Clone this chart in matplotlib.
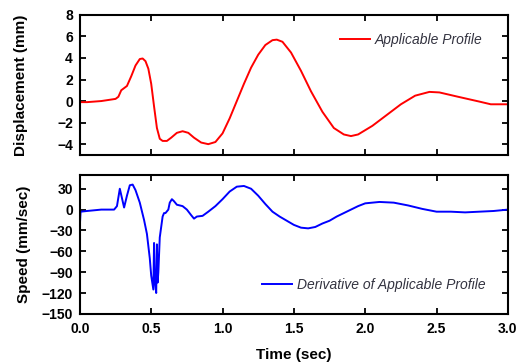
import matplotlib
matplotlib.use('Agg')
import matplotlib.pyplot as plt

plt.rcParams['font.family'] = ['Liberation Sans', 'DejaVu Sans']

# displacement profile (sec, mm)
disp_t = [0.00, 0.05, 0.10, 0.15, 0.20, 0.25, 0.27, 0.29, 0.31, 0.33, 0.36, 0.39,
          0.42, 0.44, 0.46, 0.48, 0.50, 0.52, 0.54, 0.56, 0.58, 0.61, 0.64, 0.68,
          0.72, 0.76, 0.80, 0.85, 0.90, 0.95, 1.00, 1.05, 1.10, 1.15, 1.20, 1.25,
          1.30, 1.35, 1.38, 1.42, 1.48, 1.55, 1.62, 1.70, 1.78, 1.85, 1.90, 1.95,
          2.05, 2.15, 2.25, 2.35, 2.45, 2.52, 2.65, 2.80, 2.88, 3.00]
disp_mm = [-0.1, -0.1, -0.05, 0.0, 0.1, 0.2, 0.4, 1.0, 1.2, 1.4, 2.3, 3.3,
           3.9, 3.95, 3.7, 3.0, 1.6, -0.5, -2.5, -3.5, -3.7, -3.7, -3.4, -2.95,
           -2.8, -2.95, -3.4, -3.85, -4.0, -3.8, -3.0, -1.6, 0.0, 1.6, 3.1, 4.3,
           5.2, 5.65, 5.7, 5.5, 4.5, 2.8, 0.9, -1.0, -2.5, -3.1, -3.25, -3.1,
           -2.3, -1.3, -0.3, 0.5, 0.85, 0.8, 0.4, -0.05, -0.3, -0.3]

# speed (sec, mm/sec)
spd_t = [0.000, 0.005, 0.05, 0.10, 0.15, 0.20, 0.24, 0.26, 0.28, 0.30, 0.31, 0.33,
         0.35, 0.37, 0.39, 0.42, 0.45, 0.47, 0.49, 0.50, 0.515, 0.52, 0.525, 0.535,
         0.54, 0.545, 0.55, 0.56, 0.58, 0.59, 0.60, 0.62, 0.63, 0.645, 0.66, 0.68,
         0.72, 0.75, 0.78, 0.80, 0.82, 0.86, 0.90, 0.95, 1.00, 1.05, 1.10, 1.15,
         1.20, 1.25, 1.30, 1.35, 1.40, 1.45, 1.50, 1.55, 1.60, 1.65, 1.70, 1.75,
         1.80, 1.90, 1.95, 2.00, 2.10, 2.20, 2.30, 2.40, 2.50, 2.60, 2.70, 2.80,
         2.90, 3.00]
spd_v = [-22, -3, -2, -1, 0, 0, 0, 5, 30, 12, 3, 20,
         35, 36, 28, 10, -15, -35, -70, -95, -115, -48, -100, -120,
         -50, -105, -90, -40, -10, -5, -5, 0, 10, 15, 12, 7,
         5, 0, -8, -13, -10, -9, -3, 5, 15, 26, 33, 34,
         30, 20, 8, -3, -10, -16, -22, -26, -27, -25, -20, -16,
         -10, 0, 5, 9, 11, 10, 6, 1, -3, -3, -4, -3,
         -2, 0]

xticks = [0, 0.5, 1.0, 1.5, 2.0, 2.5, 3.0]
xlabels = ['0.0', '0.5', '1.0', '1.5', '2.0', '2.5', '3.0']

fig = plt.figure(figsize=(5.22, 3.62), dpi=100)
ax1 = fig.add_axes([0.153, 0.572, 0.820, 0.387])
ax2 = fig.add_axes([0.153, 0.133, 0.820, 0.384])

ax1.plot(disp_t, disp_mm, color='#ff0000', lw=1.4, label='Applicable Profile')
ax2.plot(spd_t, spd_v, color='#0000ff', lw=1.4, label='Derivative of Applicable Profile')

ax1.set_xlim(0, 3)
ax1.set_ylim(-5, 8)
ax1.set_yticks([-4, -2, 0, 2, 4, 6, 8])
ax1.set_xticks(xticks)
ax1.set_xticklabels([])

ax2.set_xlim(0, 3)
ax2.set_ylim(-150, 50)
ax2.set_yticks([-150, -120, -90, -60, -30, 0, 30])
ax2.set_xticks(xticks)
ax2.set_xticklabels(xlabels)

for ax in (ax1, ax2):
    for s in ax.spines.values():
        s.set_linewidth(1.5)
    ax.tick_params(direction='in', length=4, width=1.3, top=True, right=True,
                   labelsize=10)
    ax.tick_params(axis='x', pad=6)
    ax.tick_params(axis='y', pad=5)
    for lab in ax.get_xticklabels() + ax.get_yticklabels():
        lab.set_fontweight('bold')

ax1.set_ylabel('Displacement (mm)', fontsize=11, fontweight='bold')
ax1.yaxis.set_label_coords(-0.121, 0.5)
ax2.set_ylabel('Speed (mm/sec)', fontsize=11, fontweight='bold')
ax2.yaxis.set_label_coords(-0.114, 0.5)
ax2.set_xlabel('Time (sec)', fontsize=11, fontweight='bold')
ax2.xaxis.set_label_coords(0.5, -0.245)

leg1 = ax1.legend(loc='center right', frameon=False, handlelength=2.15,
                  handletextpad=0.35, borderpad=0, borderaxespad=0,
                  bbox_to_anchor=(0.94, 0.82),
                  prop={'style': 'italic', 'size': 10})
leg2 = ax2.legend(loc='center right', frameon=False, handlelength=2.15,
                  handletextpad=0.35, borderpad=0, borderaxespad=0,
                  bbox_to_anchor=(0.948, 0.209),
                  prop={'style': 'italic', 'size': 10})
for leg in (leg1, leg2):
    for t in leg.get_texts():
        t.set_color('#333340')

fig.savefig('out.png', dpi=100)
